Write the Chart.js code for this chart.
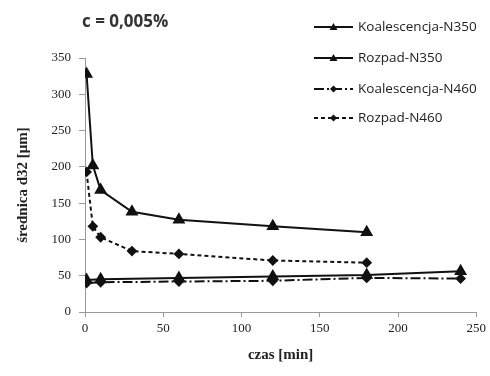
<!DOCTYPE html>
<html>
<head>
<meta charset="utf-8">
<script src="https://cdn.jsdelivr.net/npm/chart.js@4"></script>
<style>
  html, body { margin: 0; padding: 0; background: #fff; }
  #wrap { width: 490px; height: 376px; }
</style>
</head>
<body>
<div id="wrap"><canvas id="chart" width="490" height="376"></canvas></div>
<script>
// values (czas [min] -> srednica d32 [um])
const koalN350X = [1, 10, 60, 120, 180, 240];
const koalN350Y = [44, 45, 47, 49, 51, 56];
const rozpadN350X = [1, 5, 10, 30, 60, 120, 180];
const rozpadN350Y = [328, 202, 168, 138, 127, 118, 110];
const koalN460X = [1, 10, 60, 120, 180, 240];
const koalN460Y = [40, 41, 42, 43, 47, 46];
const rozpadN460X = [1, 5, 10, 30, 60, 120, 180];
const rozpadN460Y = [193, 118, 103, 84, 80, 71, 68];
const seriesNames = ['Koalescencja-N350', 'Rozpad-N350', 'Koalescencja-N460', 'Rozpad-N460'];
const xTicks = [0, 50, 100, 150, 200, 250];
const yTicks = [0, 50, 100, 150, 200, 250, 300, 350];

const pts = (xs, ys) => xs.map((x, i) => ({ x: x, y: ys[i] }));

// title + legend drawn inside the plot like the original
const overlay = {
  id: 'overlay',
  afterDraw(chart) {
    const ctx = chart.ctx;
    ctx.save();
    ctx.fillStyle = '#333';
    ctx.font = 'bold 17px "Open Sans", sans-serif';
    ctx.textBaseline = 'middle';
    ctx.fillText('c = 0,005%', 82, 22);

    const rows = [27, 58, 89, 118];
    chart.data.datasets.forEach((ds, i) => {
      const y = rows[i];
      ctx.strokeStyle = '#111';
      ctx.lineWidth = 2;
      ctx.setLineDash(ds.borderDash || []);
      ctx.beginPath();
      ctx.moveTo(314, y);
      ctx.lineTo(353, y);
      ctx.stroke();
      ctx.setLineDash([]);
      ctx.fillStyle = '#111';
      ctx.beginPath();
      if (ds.pointStyle === 'triangle') {
        ctx.moveTo(333.5, y - 4);
        ctx.lineTo(337.5, y + 3);
        ctx.lineTo(329.5, y + 3);
      } else {
        ctx.moveTo(333.5, y - 3.5);
        ctx.lineTo(337, y);
        ctx.lineTo(333.5, y + 3.5);
        ctx.lineTo(330, y);
      }
      ctx.closePath();
      ctx.fill();
      ctx.fillStyle = '#222';
      ctx.font = '13.5px "Open Sans", sans-serif';
      ctx.fillText(ds.label, 358, y);
    });
    ctx.restore();
  }
};

const serif = '"Liberation Serif", "DejaVu Serif", serif';

new Chart(document.getElementById('chart').getContext('2d'), {
  type: 'scatter',
  data: {
    datasets: [
      {
        label: seriesNames[0],
        data: pts(koalN350X, koalN350Y),
        showLine: true,
        borderColor: '#111',
        backgroundColor: '#111',
        borderWidth: 2,
        pointStyle: 'triangle',
        pointRadius: 5.5,
      },
      {
        label: seriesNames[1],
        data: pts(rozpadN350X, rozpadN350Y),
        showLine: true,
        borderColor: '#111',
        backgroundColor: '#111',
        borderWidth: 2,
        pointStyle: 'triangle',
        pointRadius: 5.5,
      },
      {
        label: seriesNames[2],
        data: pts(koalN460X, koalN460Y),
        showLine: true,
        borderColor: '#111',
        backgroundColor: '#111',
        borderWidth: 2,
        borderDash: [10, 3, 2, 3],
        pointStyle: 'rectRot',
        pointRadius: 4,
      },
      {
        label: seriesNames[3],
        data: pts(rozpadN460X, rozpadN460Y),
        showLine: true,
        borderColor: '#111',
        backgroundColor: '#111',
        borderWidth: 2,
        borderDash: [4, 3],
        pointStyle: 'rectRot',
        pointRadius: 4,
      }
    ]
  },
  options: {
    responsive: false,
    animation: false,
    layout: { padding: { left: 10, right: 13, top: 58, bottom: 8 } },
    plugins: {
      legend: { display: false },
      tooltip: { enabled: false }
    },
    scales: {
      x: {
        type: 'linear',
        min: 0,
        max: 250,
        afterBuildTicks: axis => { axis.ticks = xTicks.map(v => ({ value: v })); },
        afterFit: axis => { axis.height = 56; },
        grid: {
          drawOnChartArea: false,
          color: '#999',
          tickLength: 5,
        },
        border: { color: '#999', width: 1 },
        ticks: {
          color: '#222',
          font: { family: serif, size: 13 },
          padding: 4,
          maxRotation: 0,
        },
        title: {
          display: true,
          text: 'czas [min]',
          color: '#222',
          font: { family: serif, size: 15, weight: 'bold' },
          padding: { top: 8 }
        }
      },
      y: {
        min: 0,
        max: 350,
        afterBuildTicks: axis => { axis.ticks = yTicks.map(v => ({ value: v })); },
        afterFit: axis => { axis.width = 75; },
        grid: {
          drawOnChartArea: false,
          color: '#999',
          tickLength: 6,
        },
        border: { color: '#999', width: 1 },
        ticks: {
          color: '#222',
          font: { family: serif, size: 13 },
          padding: 8,
        },
        title: {
          display: true,
          text: 'średnica d32 [μm]',
          color: '#222',
          font: { family: serif, size: 15, weight: 'bold' },
          padding: { bottom: 8 }
        }
      }
    }
  },
  plugins: [overlay]
});
</script>
</body>
</html>
